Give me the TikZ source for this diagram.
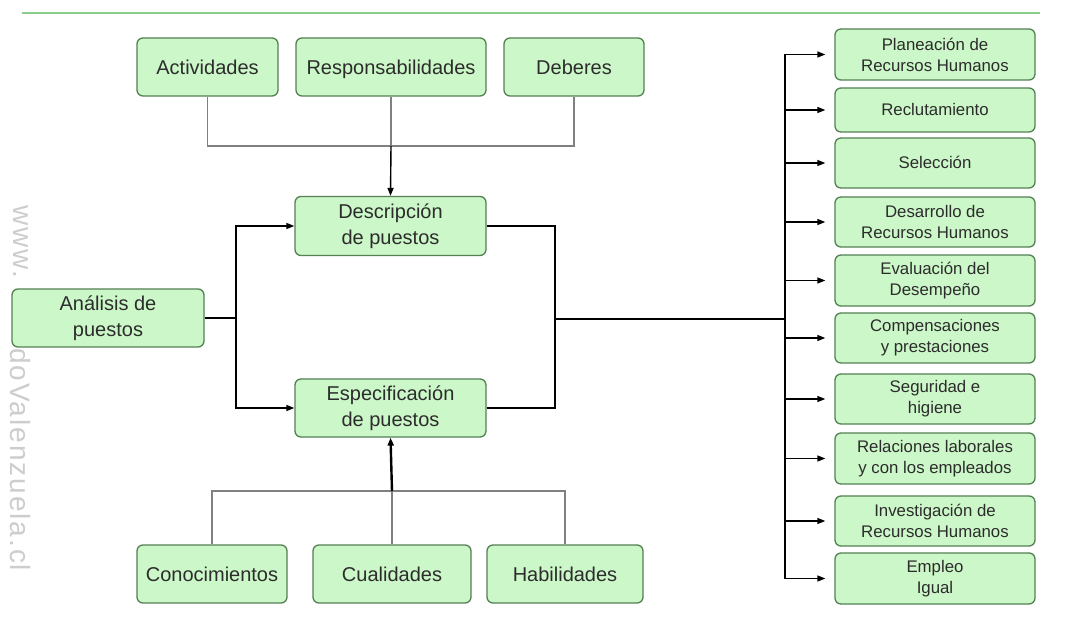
\documentclass[tikz,border=0pt]{standalone}
\usepackage{fontspec}
\setmainfont{Liberation Sans}
\newfontfamily\wmfont[LetterSpace=7]{Liberation Sans}
\usetikzlibrary{arrows.meta}

\definecolor{boxfill}{RGB}{204,247,200}
\definecolor{boxline}{RGB}{84,128,84}
\definecolor{txt}{RGB}{44,44,44}
\definecolor{thin}{RGB}{128,128,128}
\definecolor{rule}{RGB}{140,205,140}
\definecolor{wm}{RGB}{205,205,205}

\tikzset{
  box/.style={draw=boxline, fill=boxfill, line width=1.3pt, rounded corners=6pt,
    align=center, text=txt, inner sep=0pt,
    font=\fontsize{20}{26}\selectfont},
  one/.style={text height=14.4pt, text depth=0pt},
  sidebox/.style={box, minimum width=200pt, font=\fontsize{16.8}{21}\selectfont},
  sideone/.style={text height=12pt, text depth=0pt},
  tree/.style={draw=thin, line width=1.2pt},
  link/.style={draw=black, line width=1.4pt},
  tip/.style={-{Triangle[length=8pt,width=6pt]}},
  sitemark/.style={wm, rotate=-90, anchor=west, inner sep=0pt,
    font=\wmfont\fontsize{28}{28}\selectfont},
}

\begin{document}
\begin{tikzpicture}[x=1pt, y=-1pt]
\useasboundingbox (0,0) rectangle (1092,617);
\fill[white] (0,0) rectangle (1092,617);

% header rule
\draw[rule, line width=1.6pt] (22,13) -- (1040,13);

% site mark along the left edge
\node[sitemark] (wm1) at (21,205) {www.};
\node[sitemark] (wm2) at (21,348) {doValenzuela.cl};

% upper inputs
\node[box, one, minimum width=141pt, minimum height=58pt] (act)  at (207.5,67) {Actividades};
\node[box, one, minimum width=190pt, minimum height=58pt] (resp) at (391,67)   {Responsabilidades};
\node[box, one, minimum width=140pt, minimum height=58pt] (deb)  at (574,67)   {Deberes};

% central chain
\node[box, minimum width=191pt, minimum height=59pt] (desc) at (390.5,226) {Descripción\\de puestos};
\node[box, minimum width=192pt, minimum height=58pt] (anal) at (108,318)   {Análisis de\\puestos};
\node[box, minimum width=191pt, minimum height=58pt] (spec) at (390.5,408) {Especificación\\de puestos};

% lower inputs
\node[box, one, minimum width=150pt, minimum height=58pt] (con) at (212,574) {Conocimientos};
\node[box, one, minimum width=158pt, minimum height=58pt] (cua) at (392,574) {Cualidades};
\node[box, one, minimum width=156pt, minimum height=58pt] (hab) at (565,574) {Habilidades};

% functions fed by the analysis
\node[sidebox, minimum height=51pt] (r1)  at (935,54.5)  {Planeación de\\Recursos Humanos};
\node[sidebox, sideone, minimum height=44pt] (r2)  at (935,110)   {Reclutamiento};
\node[sidebox, sideone, minimum height=50pt] (r3)  at (935,163)   {Selección};
\node[sidebox, minimum height=50pt] (r4)  at (935,222)   {Desarrollo de\\Recursos Humanos};
\node[sidebox, minimum height=51pt] (r5)  at (935,280.5) {Evaluación del\\Desempeño};
\node[sidebox, minimum height=50pt] (r6)  at (935,338)   {Compensaciones\\y prestaciones};
\node[sidebox, minimum height=50pt] (r7)  at (935,399)   {Seguridad e\\higiene};
\node[sidebox, minimum height=51pt] (r8)  at (935,458.5) {Relaciones laborales\\y con los empleados};
\node[sidebox, minimum height=50pt] (r9)  at (935,521)   {Investigación de\\Recursos Humanos};
\node[sidebox, minimum height=51pt] (r10) at (935,578.5) {Empleo\\Igual};

% junction points
\coordinate (tj) at (391,146);
\coordinate (bj) at (392,491);
\coordinate (aj) at (236,318);
\coordinate (rj) at (555,319);
\coordinate (bus) at (785,319);

% upper tree
\draw[tree] (act.south) |- (tj) -| (deb.south);
\draw[tree] (resp.south) -- (tj);
\draw[link, tip] (tj) -- (desc.north);

% lower tree
\draw[tree] (con.north) |- (bj) -| (hab.north);
\draw[tree] (cua.north) -- (bj);
\draw[link, line width=2.4pt, tip] (bj) -- (spec.south);

% analysis splits into description and specification
\draw[link] (anal.east) -- (aj);
\draw[link, tip] (aj) |- (desc.west);
\draw[link, tip] (aj) |- (spec.west);

% both merge and feed the bus
\draw[link] (desc.east) -| (rj);
\draw[link] (spec.east) -| (rj);
\draw[link] (rj) -- (bus);
\draw[link] (bus |- r1.west) -- (bus |- r10.west);
\foreach \k in {1,...,10}
  \draw[link, tip, shorten >=9pt] (bus |- r\k.west) -- (r\k.west);
\end{tikzpicture}
\end{document}
